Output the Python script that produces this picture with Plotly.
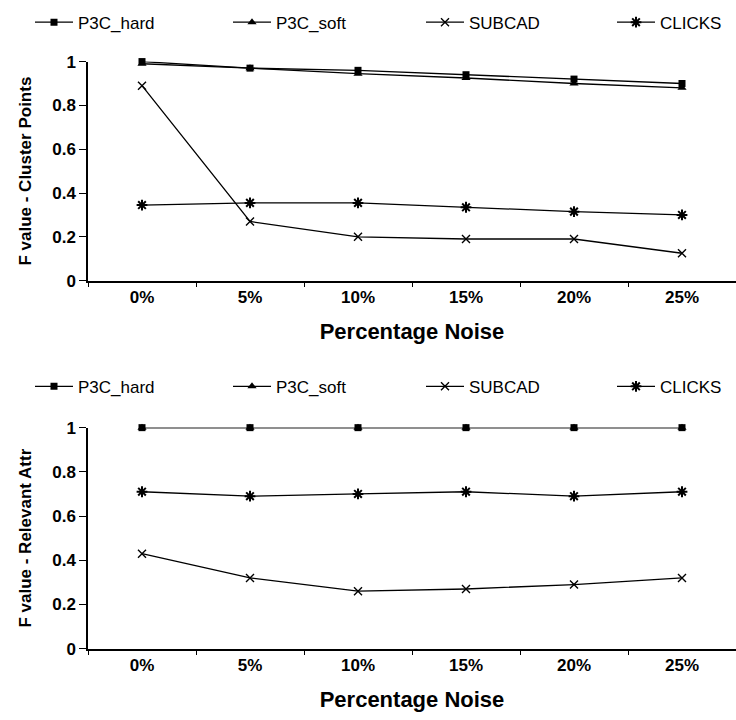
import plotly.graph_objects as go

noise_levels = ["0%", "5%", "10%", "15%", "20%", "25%"]
series_names = ["P3C_hard", "P3C_soft", "SUBCAD", "CLICKS"]

# F value on cluster points
points_p3c_hard = [1.00, 0.97, 0.96, 0.94, 0.92, 0.90]
points_p3c_soft = [0.99, 0.97, 0.945, 0.925, 0.90, 0.88]
points_subcad = [0.89, 0.27, 0.20, 0.19, 0.19, 0.125]
points_clicks = [0.345, 0.355, 0.355, 0.335, 0.315, 0.30]

# F value on relevant attributes
attr_p3c_hard = [1.0, 1.0, 1.0, 1.0, 1.0, 1.0]
attr_p3c_soft = [1.0, 1.0, 1.0, 1.0, 1.0, 1.0]
attr_subcad = [0.43, 0.32, 0.26, 0.27, 0.29, 0.32]
attr_clicks = [0.71, 0.69, 0.70, 0.71, 0.69, 0.71]

y_ticks = [0, 0.2, 0.4, 0.6, 0.8, 1]
y_tick_text = ["0", "0.2", "0.4", "0.6", "0.8", "1"]

FONT = "Liberation Sans, Arial, sans-serif"
W, H = 736, 720

markers = [
    dict(symbol="square", size=7, color="black"),
    dict(symbol="triangle-up", size=8, color="black"),
    dict(symbol="x-thin", size=8, color="black", line=dict(color="black", width=1.4)),
    dict(symbol="asterisk", size=9, color="black", line=dict(color="black", width=2)),
]

# left edge (px) of each legend entry, shared by both panels
legend_left = [30, 228, 421, 612]

fig = go.Figure()

panels = [
    ("x", "y", 14, [points_p3c_hard, points_p3c_soft, points_subcad, points_clicks]),
    ("x2", "y2", 388, [attr_p3c_hard, attr_p3c_soft, attr_subcad, attr_clicks]),
]

layout_legends = {}
leg_idx = 0
for xa, ya, leg_y, values in panels:
    for name, marker, vals, left in zip(series_names, markers, values, legend_left):
        leg_idx += 1
        leg_key = "legend" if leg_idx == 1 else f"legend{leg_idx}"
        fig.add_trace(go.Scatter(
            x=noise_levels, y=vals, name=name, mode="lines+markers",
            line=dict(color="black", width=1.3), marker=marker,
            xaxis=xa, yaxis=ya, legend=leg_key, cliponaxis=False,
        ))
        layout_legends[leg_key] = dict(
            x=left / W, xanchor="left", y=1 - leg_y / H, yanchor="middle",
            orientation="h", bgcolor="rgba(0,0,0,0)", borderwidth=0,
            font=dict(family=FONT, size=17, color="black"),
            itemwidth=38,
        )

x_common = dict(
    type="category", categoryorder="array", categoryarray=noise_levels,
    range=[-0.5, 5.5], domain=[88 / W, 1.0],
    showline=True, linecolor="black", linewidth=1.5,
    ticks="outside", ticklen=5, tickcolor="black", tickson="boundaries",
    showgrid=False, zeroline=False,
    tickfont=dict(family=FONT, size=17, color="black", weight="bold"),
    title=dict(text="Percentage Noise", standoff=18,
               font=dict(family=FONT, size=22, color="black", weight="bold")),
)
y_common = dict(
    range=[0, 1], tickvals=y_ticks, ticktext=y_tick_text,
    showline=True, linecolor="black", linewidth=1.5,
    ticks="outside", ticklen=7, tickcolor="black",
    showgrid=False, zeroline=False,
    tickfont=dict(family=FONT, size=17, color="black", weight="bold"),
)

fig.update_layout(
    width=W, height=H,
    margin=dict(l=0, r=0, t=0, b=0),
    paper_bgcolor="white", plot_bgcolor="white",
    showlegend=True,
    xaxis=dict(x_common, anchor="y"),
    yaxis=dict(y_common, anchor="x", domain=[1 - 279 / H, 1 - 54 / H],
               title=dict(text="F value - Cluster Points", standoff=16,
                          font=dict(family=FONT, size=17, color="black", weight="bold"))),
    xaxis2=dict(x_common, anchor="y2"),
    yaxis2=dict(y_common, anchor="x2", domain=[1 - 657 / H, 1 - 430 / H],
                title=dict(text="F value - Relevant Attr", standoff=16,
                           font=dict(family=FONT, size=17, color="black", weight="bold"))),
    **layout_legends,
)

fig.write_html("out.html")
